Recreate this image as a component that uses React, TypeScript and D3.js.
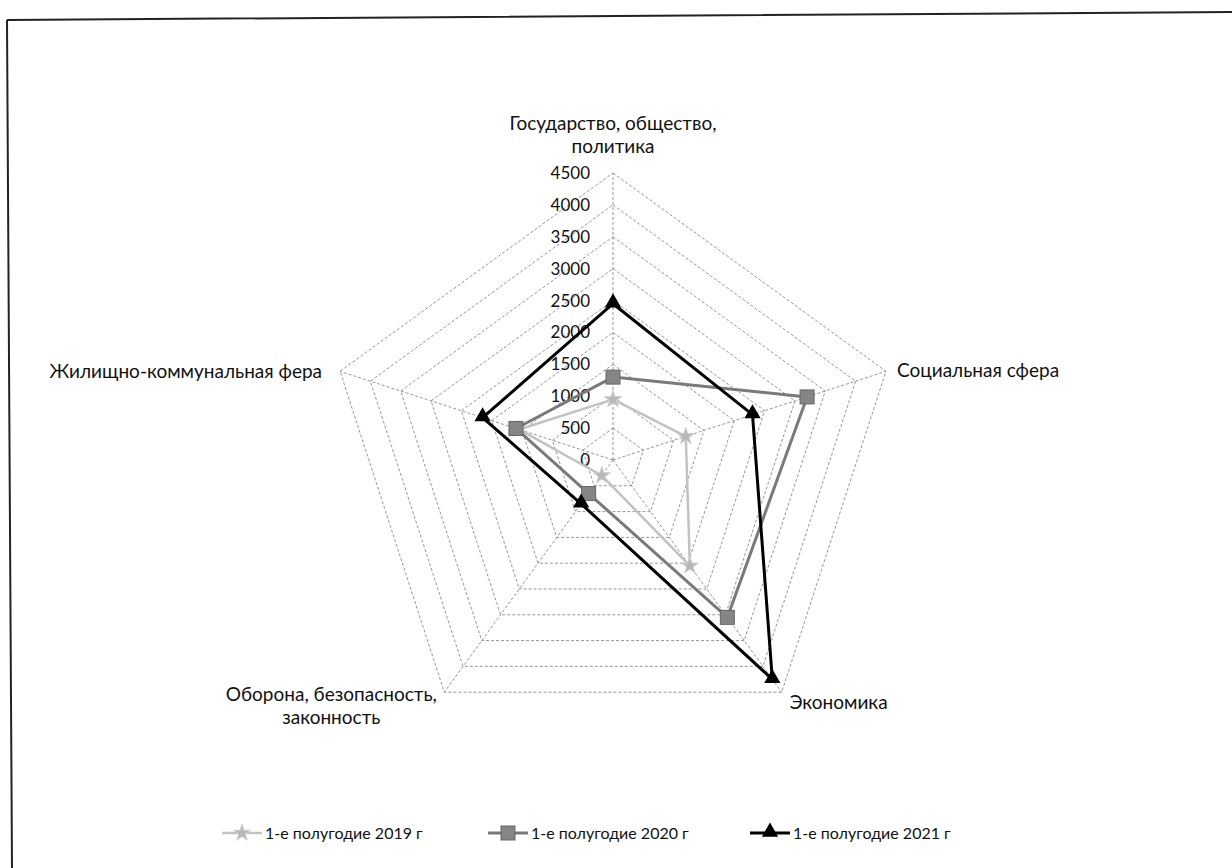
import React from "react";
import * as d3 from "d3";

// categories (multi-line labels split into lines)
const categories: string[][] = [
  ["Государство, общество,", "политика"],
  ["Социальная сфера"],
  ["Экономика"],
  ["Оборона, безопасность,", "законность"],
  ["Жилищно-коммунальная фера"],
];
const seriesNames = ["1-е полугодие 2019 г", "1-е полугодие 2020 г", "1-е полугодие 2021 г"];
const values2019 = [950, 1200, 2050, 300, 1550];
const values2020 = [1300, 3200, 3050, 650, 1600];
const values2021 = [2450, 2300, 4250, 850, 2150];
const tickValues = [0, 500, 1000, 1500, 2000, 2500, 3000, 3500, 4000, 4500];

const W = 1232;
const H = 868;
const cx = 613;
const cy = 460;
const R = 287;
const FONT = "Lato, 'Open Sans', sans-serif";

const rScale = d3.scaleLinear().domain([0, 4500]).range([0, R]);
const angle = d3
  .scaleLinear()
  .domain([0, categories.length])
  .range([0, 2 * Math.PI]);

const pt = (i: number, v: number): [number, number] => {
  const a = angle(i);
  return [cx + rScale(v) * Math.sin(a), cy - rScale(v) * Math.cos(a)];
};

const radial = d3
  .lineRadial<number>()
  .angle((_, i) => angle(i))
  .radius((d) => rScale(d))
  .curve(d3.curveLinearClosed);

const styles = [
  { color: "#c2c2c2", width: 2.5, marker: "star", mcolor: "#b8b8b8" },
  { color: "#7a7a7a", width: 3, marker: "square", mcolor: "#858585" },
  { color: "#000000", width: 3, marker: "triangle", mcolor: "#000000" },
];

function Marker({ x, y, kind, color }: { x: number; y: number; kind: string; color: string }) {
  if (kind === "square") {
    return <rect x={x - 7} y={y - 7} width={14} height={14} fill={color} stroke="#666" strokeWidth={1} />;
  }
  if (kind === "triangle") {
    const p = d3.symbol().type(d3.symbolTriangle).size(115)();
    return <path d={p || ""} transform={`translate(${x},${y - 1})`} fill={color} />;
  }
  const p = d3.symbol().type(d3.symbolStar).size(90)();
  return <path d={p || ""} transform={`translate(${x},${y})`} fill={color} stroke="#d0d0d0" strokeWidth={1} />;
}

// label placement relative to each axis vertex
const labelPos = [
  { dx: 0, dy: -43, anchor: "middle" },
  { dx: 11, dy: 6, anchor: "start" },
  { dx: 8, dy: 17, anchor: "start" },
  { dx: -113, dy: 9, anchor: "middle" },
  { dx: -18, dy: 7, anchor: "end" },
];

export default function App() {
  const series = [values2019, values2020, values2021];
  const legendX = [222, 488, 750];

  return (
    <svg width={W} height={H} style={{ position: "absolute", left: 0, top: 0, background: "#fff" }} fontFamily={FONT}>
      <rect width={W} height={H} fill="#fff" />
      {/* frame */}
      <path d="M7,20 L1232,12 M7,20 L12,868" fill="none" stroke="#222" strokeWidth={2} />

      {/* grid rings */}
      {tickValues.slice(1).map((t) => (
        <path
          key={t}
          d={radial(categories.map(() => t)) || ""}
          transform={`translate(${cx},${cy})`}
          fill="none"
          stroke="#8a8a8a"
          strokeWidth={0.9}
          strokeDasharray="3,2"
        />
      ))}
      {/* spokes */}
      {categories.map((_, i) => {
        const [x, y] = pt(i, 4500);
        return <line key={i} x1={cx} y1={cy} x2={x} y2={y} stroke="#8a8a8a" strokeWidth={0.9} strokeDasharray="3,2" />;
      })}

      {/* tick labels */}
      {tickValues.map((t) => (
        <text key={t} x={cx - 23} y={cy - rScale(t)} dy="0.35em" textAnchor="end" fontSize={17} fill="#111">
          {t}
        </text>
      ))}

      {/* category labels */}
      {categories.map((lines, i) => {
        const [vx, vy] = pt(i, 4500);
        const lp = labelPos[i];
        return (
          <text key={i} x={vx + lp.dx} y={vy + lp.dy} textAnchor={lp.anchor as any} fontSize={19} fill="#111">
            {lines.map((l, j) => (
              <tspan key={j} x={vx + lp.dx} dy={j === 0 ? 0 : 23}>
                {l}
              </tspan>
            ))}
          </text>
        );
      })}

      {/* series */}
      {series.map((vals, s) => (
        <g key={s}>
          <path
            d={radial(vals) || ""}
            transform={`translate(${cx},${cy})`}
            fill="none"
            stroke={styles[s].color}
            strokeWidth={styles[s].width}
            strokeLinejoin="round"
          />
          {vals.map((v, i) => {
            const [x, y] = pt(i, v);
            return <Marker key={i} x={x} y={y} kind={styles[s].marker} color={styles[s].mcolor} />;
          })}
        </g>
      ))}

      {/* legend */}
      {seriesNames.map((name, s) => (
        <g key={name}>
          <line x1={legendX[s]} y1={833} x2={legendX[s] + 40} y2={833} stroke={styles[s].color} strokeWidth={styles[s].width} />
          <Marker x={legendX[s] + 20} y={833} kind={styles[s].marker} color={styles[s].mcolor} />
          <text x={legendX[s] + 43} y={833} dy="0.35em" fontSize={16} fill="#111">
            {name}
          </text>
        </g>
      ))}
    </svg>
  );
}
